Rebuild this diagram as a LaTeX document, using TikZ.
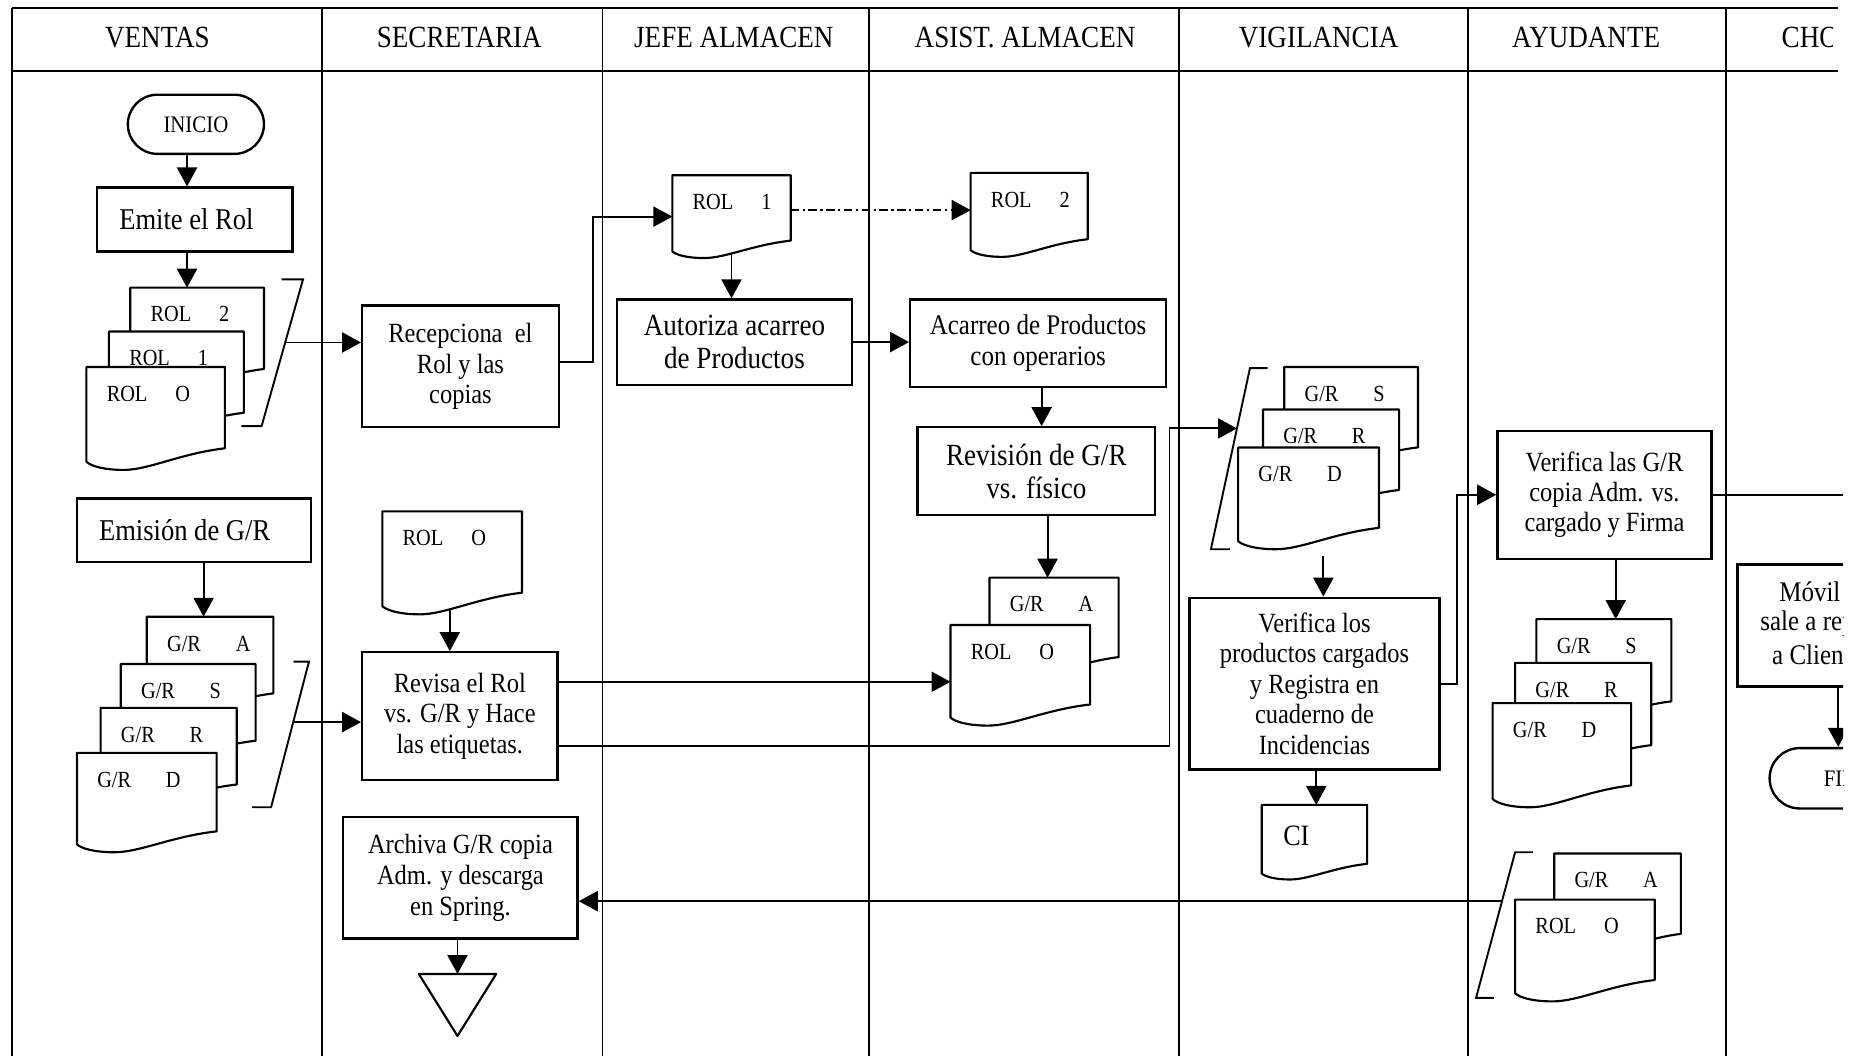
\documentclass[tikz,border=0pt]{standalone}
\usepackage{fontspec}
\setmainfont{Liberation Serif}[FakeStretch=0.88]
\usetikzlibrary{arrows.meta,calc}

\newcommand\fsz[2]{\fontsize{#1}{#2}\selectfont}

% document symbol with a wavy bottom edge: name, left x, top y, width, height
\newcommand\docsym[5]{%
  \node[docframe, minimum width=#4pt, minimum height=#5pt] (#1) at (#2,#3) {};
  \filldraw[docline] (#1.north west) -- (#1.north east)
    -- ($(#1.north west)+(#4,0.79*#5)$)
    .. controls ($(#1.north west)+(0.68*#4,0.84*#5)$) and ($(#1.north west)+(0.45*#4,#5)$)
    .. ($(#1.north west)+(0.27*#4,#5)$)
    .. controls ($(#1.north west)+(0.12*#4,#5)$) and ($(#1.north west)+(0.03*#4,0.96*#5)$)
    .. ($(#1.north west)+(0,0.92*#5)$) -- cycle;
}
% two-part label written inside a document symbol
\newcommand\doclabel[3]{%
  \node[doctext] (#1-t) at ($(#1.north west)+(17,29)$) {\makebox[58pt][l]{#2}#3};
}

\begin{document}
\begin{tikzpicture}[x=1pt,y=-1pt,
  lane/.style={line width=1.4pt},
  rule/.style={line width=1.8pt},
  hdr/.style={inner sep=0pt, font=\fsz{26}{30}},
  box/.style={draw, line width=2pt, inner sep=0pt, fill=white},
  term/.style={box, rounded corners=25pt},
  docframe/.style={inner sep=0pt, outer sep=0pt, anchor=north west},
  docline/.style={draw, line width=1.8pt, fill=white, line join=round},
  doctext/.style={inner sep=0pt, anchor=base west, font=\fsz{19.5}{22}},
  conn/.style={line width=1.6pt},
  flow/.style={conn, -{Triangle[length=16pt,width=17pt]}},
  dashdot/.style={dash pattern=on 7pt off 3pt on 2pt off 3pt}
]
\fill[white] (0,0) rectangle (1568,892);
\useasboundingbox (0,0) rectangle (1568,892);

\begin{scope}
\clip (0,0) rectangle (1557,892);

% ---------- swimlane frame ----------
\draw[rule] (10,7) -- (1553,7);
\draw[rule] (10,60) -- (1553,60);
\foreach \lx in {10,272,509,734,996,1240,1458}
  \draw[lane] (\lx,7) -- (\lx,892);

\node[hdr] (hventas) at (133,32) {VENTAS};
\node[hdr] (hsecre) at (388,32) {SECRETARIA};
\node[hdr] (hjefe) at (620,32) {JEFE ALMACEN};
\node[hdr] (hasist) at (866,32) {ASIST. ALMACEN};
\node[hdr] (hvigil) at (1114,32) {VIGILANCIA};
\node[hdr] (hayud) at (1340,32) {AYUDANTE};
\begin{scope}
  \clip (1460,8) rectangle (1548,59);
  \node[hdr, anchor=west] (hchofer) at (1505,32) {CHOFER};
\end{scope}

% ---------- VENTAS ----------
\node[term, minimum width=115pt, minimum height=50pt, font=\fsz{20}{24}] (inicio) at (165.5,105) {INICIO};
\node[box, minimum width=165pt, minimum height=54pt, font=\fsz{25.5}{30}] (emite) at (164.5,185.5) {Emite el Rol\kern14pt};

\docsym{vrol2}{110}{243}{113}{87}\doclabel{vrol2}{ROL}{2}
\docsym{vrol1}{92}{280}{114}{87}\doclabel{vrol1}{ROL}{1}
\docsym{vrol0}{73}{310}{117}{87}\doclabel{vrol0}{ROL}{O}
\draw[conn] (238,236) -- (256,236) -- coordinate[pos=0.43] (rolbrk) (221,360) -- (204,360);

\node[box, minimum width=198pt, minimum height=54pt, font=\fsz{25.5}{30}] (emision) at (164,448) {Emisión de G/R\kern16pt};

\docsym{vga}{124}{521}{107}{82}\doclabel{vga}{G/R}{A}
\docsym{vgs}{102}{561}{114}{82}\doclabel{vgs}{G/R}{S}
\docsym{vgr}{85}{598}{115}{82}\doclabel{vgr}{G/R}{R}
\docsym{vgd}{65}{636}{118}{84}\doclabel{vgd}{G/R}{D}
\draw[conn] (248,559) -- (261,559) -- coordinate[pos=0.415] (grbrk) (229,682) -- (213,682);

% ---------- SECRETARIA ----------
\node[box, align=center, minimum width=166pt, minimum height=103pt, font=\fsz{23.5}{25.5}] (recep) at (389,309.5) {Recepciona\ \ el\\Rol y las\\copias};
\docsym{srol}{323}{432}{118}{87}\doclabel{srol}{ROL}{O}
\node[box, align=center, minimum width=165pt, minimum height=108pt, font=\fsz{23.5}{26}] (revisa) at (388.5,605) {Revisa el Rol\\vs. G/R y Hace\\las etiquetas.};
\node[box, align=center, minimum width=198pt, minimum height=103pt, font=\fsz{23.5}{26}] (archiva) at (389,741.5) {Archiva G/R copia\\Adm. y descarga\\en Spring.};
\node[inner sep=0pt, minimum width=65pt, minimum height=52pt] (tri) at (386.5,849) {};
\draw[docline] (tri.north west) -- (tri.north east) -- (tri.south) -- cycle;

% ---------- JEFE ALMACEN ----------
\docsym{jrol1}{568}{148}{100}{70}\doclabel{jrol1}{ROL}{1}
\node[box, align=center, minimum width=199pt, minimum height=72pt, font=\fsz{26}{28}] (autoriza) at (620.5,289) {Autoriza acarreo\\de Productos};

% ---------- ASIST. ALMACEN ----------
\docsym{arol2}{820}{146}{99}{71}\doclabel{arol2}{ROL}{2}
\node[box, align=center, minimum width=216pt, minimum height=74pt, font=\fsz{24}{26}] (acarreo) at (877,290) {Acarreo de Productos\\con operarios};
\node[box, align=center, minimum width=201pt, minimum height=74pt, font=\fsz{26}{28}] (revision) at (875.5,398) {Revisión de G/R\\vs. físico};
\docsym{agra}{836}{488}{109}{85}\doclabel{agra}{G/R}{A}
\docsym{arolo}{803}{528}{118}{85}\doclabel{arolo}{ROL}{O}

% ---------- VIGILANCIA ----------
\docsym{wgs}{1085}{310}{113}{86}\doclabel{wgs}{G/R}{S}
\docsym{wgr}{1067}{346}{115}{86}\doclabel{wgr}{G/R}{R}
\docsym{wgd}{1046}{378}{119}{86}\doclabel{wgd}{G/R}{D}
\draw[conn] (1071,311) -- (1056,311) -- coordinate[pos=0.333] (vigbrk) (1023,464) -- (1039,464);
\node[box, align=center, minimum width=211pt, minimum height=145pt, font=\fsz{23.5}{25.75}] (verlos) at (1110.5,577.5) {Verifica los\\productos cargados\\y Registra en\\cuaderno de\\Incidencias};
\docsym{ci}{1066}{680}{89}{63}
\node[inner sep=0pt, anchor=base west, font=\fsz{25}{28}] (ci-t) at ($(ci.north west)+(18,34)$) {CI};

% ---------- AYUDANTE ----------
\node[box, align=center, minimum width=181pt, minimum height=108pt, font=\fsz{23.5}{25.5}] (verlas) at (1355.5,418) {Verifica las G/R\\copia Adm. vs.\\cargado y Firma};
\docsym{ygs}{1298}{523}{114}{88}\doclabel{ygs}{G/R}{S}
\docsym{ygr}{1280}{560}{115}{88}\doclabel{ygr}{G/R}{R}
\docsym{ygd}{1261}{594}{117}{88}\doclabel{ygd}{G/R}{D}
\docsym{yga}{1313}{721}{107}{86}\doclabel{yga}{G/R}{A}
\docsym{yrol}{1280}{760}{118}{86}\doclabel{yrol}{ROL}{O}
\draw[conn] (1295,720) -- (1280,720) -- coordinate[pos=0.336] (aybrk) (1247,843) -- (1262,843);

% ---------- CHOFER ----------
\node[box, minimum width=200pt, minimum height=103pt] (movil) at (1568,528.5) {};
\node[inner sep=0pt, anchor=west, font=\fsz{24}{27}] (movil-a) at (1503,500) {Móvil};
\node[inner sep=0pt, anchor=west, font=\fsz{24}{27}] (movil-b) at (1487,527) {sale a repartir};
\node[inner sep=0pt, anchor=west, font=\fsz{24}{27}] (movil-c) at (1497,553) {a Cliente};
\node[term, minimum width=120pt, minimum height=51pt, rounded corners=25.5pt, font=\fsz{20}{24}] (fin) at (1555,657.5) {FIN};

% ---------- connectors ----------
\draw[flow] ([xshift=-7.5pt]inicio.south) -- ([xshift=-6.5pt]emite.north);
\draw[flow] ([xshift=-6.5pt]emite.south) -- ([xshift=-8.5pt]vrol2.north);
\draw[flow] (rolbrk) -- (rolbrk -| recep.west);
\draw[flow] ([xshift=8pt]emision.south) -- ([xshift=-5.5pt]vga.north);
\draw[flow] (grbrk) -- (grbrk -| revisa.west);
\draw[flow] ([yshift=3.5pt]recep.east) -- ++(28,0) |- (jrol1.west);
\draw[flow, dashdot] ([yshift=5.5pt]jrol1.east) -- ([yshift=5.5pt]jrol1.east -| arol2.west);
\draw[flow] ([yshift=4pt]jrol1.south) -- (jrol1.south |- autoriza.north);
\draw[flow] (autoriza.east) -- (autoriza.east -| acarreo.west);
\draw[flow] ([xshift=3pt]acarreo.south) -- ([xshift=3pt]acarreo.south |- revision.north);
\draw[flow] ([xshift=9.5pt]revision.south) -- ([xshift=9.5pt]revision.south |- agra.north);
\draw[flow] ([xshift=-2pt,yshift=4pt]srol.south) -- ([xshift=-2pt]srol.south |- revisa.north);
\draw[flow] ([yshift=29pt]revisa.east) -- ([yshift=29pt]revisa.east -| arolo.west);
\draw[flow] ([yshift=-25pt]revisa.east) -- ++(516,0) |- (vigbrk);
\draw[flow] ([xshift=12.5pt,yshift=-6pt]wgd.south) -- ([xshift=12.5pt]wgd.south |- verlos.north);
\draw[flow] ([xshift=1.5pt]verlos.south) -- ([xshift=1.5pt]verlos.south |- ci.north);
\draw[flow] (verlos.east) -- ++(14,0) |- (verlas.west);
\draw[flow] ([xshift=9.5pt]verlas.south) -- ([xshift=9.5pt]verlas.south |- ygs.north);
\draw[flow] (verlas.east) -| (movil.north);
\draw[flow] (aybrk) -- (aybrk -| archiva.east);
\draw[flow] (archiva.south -| tri.north) -- (tri.north);
\draw[flow] ([xshift=-15pt]movil.south) -- ([xshift=-15pt]movil.south |- fin.north);
\end{scope}
\end{tikzpicture}
\end{document}
